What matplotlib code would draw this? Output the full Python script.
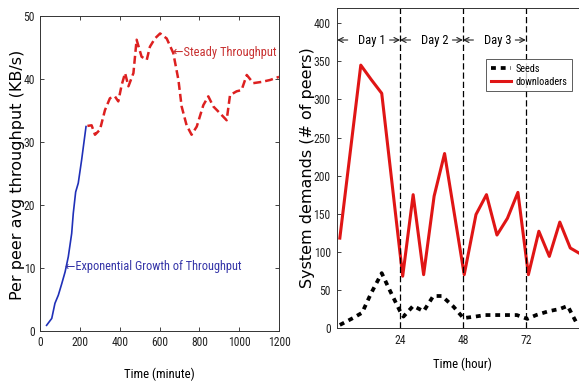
import matplotlib
matplotlib.use('Agg')
import matplotlib.pyplot as plt
from matplotlib import font_manager as fm

# left panel: per peer average throughput
growth_t = [33, 59, 75, 92, 109, 126, 142, 159, 167, 179, 192, 209, 231]
growth_v = [0.9, 2.0, 4.4, 5.7, 7.5, 9.4, 11.8, 15.5, 18.7, 22.1, 23.5, 27.2, 32.5]
steady_t = [238, 259, 276, 301, 326, 351, 376, 393, 410, 427, 444, 469, 485, 510,
            536, 552, 577, 603, 636, 669, 695, 711, 736, 761, 787, 820, 845, 870,
            904, 937, 954, 987, 1012, 1038, 1071, 1113, 1155, 1200]
steady_v = [32.6, 32.7, 31.2, 32.0, 35.1, 37.0, 37.3, 36.5, 39.1, 41.0, 38.9, 41.0,
            46.3, 43.6, 43.1, 45.2, 46.5, 47.3, 46.5, 44.2, 39.9, 35.7, 32.7, 31.2,
            32.5, 35.9, 37.3, 35.7, 34.6, 33.5, 37.5, 38.1, 38.3, 40.7, 39.4, 39.6,
            39.9, 40.4]

# right panel: system demands
dl_h = [1, 9, 13, 17, 25, 29, 33, 37, 41, 48.5, 53, 57, 61, 65, 69, 73, 77, 81, 85, 89, 93]
dl_v = [118, 345, 326, 308, 68, 175, 70, 173, 229, 70, 149, 175, 122, 144, 178,
        70, 127, 94, 139, 105, 97]
seed_h = [1, 6, 9.5, 13, 17, 20, 24, 25.3, 29, 33, 36.7, 40, 44.4, 48.2, 52.7,
          56.5, 61, 64.8, 68.6, 72.6, 76, 80.7, 85, 88, 91.8]
seed_v = [4, 13, 20, 46, 72, 50, 22, 15, 29, 22, 42, 42, 28, 13, 15, 17, 17, 17,
          17, 12, 17, 22, 25, 29, 4]
day_bounds = [0, 24, 48, 72]
day_names = ['Day 1', 'Day 2', 'Day 3']

# the original text is squeezed sideways, so look for a narrow face.
# sizes below are given as if for Liberation Sans Narrow, then rescaled
# by the digit width of whatever face is found.
def find_narrow():
    names = {f.name for f in fm.fontManager.ttflist}
    for nm, w in [('Liberation Sans Narrow', 0.456), ('Arial Narrow', 0.456),
                  ('Roboto Condensed', 0.50), ('Open Sans Condensed', 0.48),
                  ('Noto Sans Condensed', 0.50), ('DejaVu Sans Condensed', 0.572)]:
        if nm in names:
            return dict(family=[nm, 'DejaVu Sans']), w
    for f in fm.fontManager.ttflist:
        if f.name == 'DejaVu Sans' and 'ondensed' in str(f.stretch):
            return dict(family=['DejaVu Sans'], stretch='condensed'), 0.572
    return dict(family=['Liberation Sans', 'DejaVu Sans']), 0.556

narrow_kw, digit_w = find_narrow()

def NP(size):
    return fm.FontProperties(size=size * 0.456 / digit_w * 1.05, **narrow_kw)

WF = fm.FontProperties(family=['DejaVu Sans'], size=11.5)

fig = plt.figure(figsize=(5.79, 3.83), dpi=100)

def style_axes(ax, xpad, ypad):
    ax.tick_params(direction='in', top=True, right=True, length=3, width=0.6,
                   colors='#222222')
    ax.tick_params(axis='x', pad=xpad)
    ax.tick_params(axis='y', pad=ypad)
    for lab in ax.get_xticklabels() + ax.get_yticklabels():
        lab.set_fontproperties(NP(8.7))
    for sp in ax.spines.values():
        sp.set_linewidth(0.7)
        sp.set_color('#333333')

# ---- left
ax1 = fig.add_axes([0.0691, 0.1358, 0.4128, 0.8212])
ax1.plot(growth_t, growth_v, color='#2030b8', lw=1.2)
ax1.plot(steady_t, steady_v, color='#dd2020', lw=1.8, dashes=(3.2, 1.6))
ax1.set_xlim(0, 1200)
ax1.set_ylim(0, 50)
ax1.set_xticks(range(0, 1201, 200))
ax1.set_yticks(range(0, 51, 10))
style_axes(ax1, 3.5, 3.6)
ax1.set_xlabel('Time (minute)', fontproperties=NP(9.6), va='top')
ax1.xaxis.set_label_coords(0.5, -0.118)
ax1.set_ylabel('Per peer avg throughput (KB/s)', fontproperties=WF)
ax1.yaxis.set_label_coords(-0.063, 0.496)
ax1.text(669, 44.2, '\u2190Steady Throughput', color='#c83030',
         fontproperties=NP(9.4), va='center', ha='left')
ax1.text(126, 10.2, '\u2190Exponential Growth of Throughput', color='#3535a8',
         fontproperties=NP(9.3), va='center', ha='left')

# ---- right
ax2 = fig.add_axes([0.5824, 0.1436, 0.4342, 0.8355])
ax2.plot(seed_h, seed_v, color='black', lw=2.7, dashes=(1.3, 1.3), label='Seeds')
ax2.plot(dl_h, dl_v, color='#e01515', lw=2.2, label='downloaders')
for b in day_bounds[1:]:
    ax2.axvline(b, color='black', lw=0.9, dashes=(5, 2.4))
arr = dict(arrowstyle='->,head_length=0.35,head_width=0.18', lw=0.8, color='#222222',
           shrinkA=0, shrinkB=0)
for i, name in enumerate(day_names):
    lo, hi = day_bounds[i], day_bounds[i + 1]
    ax2.annotate('', xy=(lo, 378), xytext=(lo + 4, 378), arrowprops=arr)
    ax2.annotate('', xy=(hi, 378), xytext=(hi - 4, 378), arrowprops=arr)
    ax2.text(lo + 13.2, 378, name, ha='center', va='center', fontproperties=NP(9.4))
ax2.set_xlim(0, 96)
ax2.set_ylim(0, 420)
ax2.set_xticks([24, 48, 72])
ax2.set_yticks(range(0, 401, 50))
style_axes(ax2, 4.5, 4.7)
ax2.set_xlabel('Time (hour)', fontproperties=NP(9.6), va='top')
ax2.xaxis.set_label_coords(0.5, -0.092)
ax2.set_ylabel('System demands (# of peers)', fontproperties=WF)
ax2.yaxis.set_label_coords(-0.088, 0.5)
leg = ax2.legend(loc='upper right', bbox_to_anchor=(0.933, 0.84), borderaxespad=0,
                 prop=NP(7.7), fancybox=False,
                 handlelength=2.0, handletextpad=0.4, borderpad=0.45,
                 labelspacing=0.3)
leg.get_frame().set_edgecolor('#333333')
leg.get_frame().set_linewidth(0.7)

fig.savefig('out.png', dpi=100)
